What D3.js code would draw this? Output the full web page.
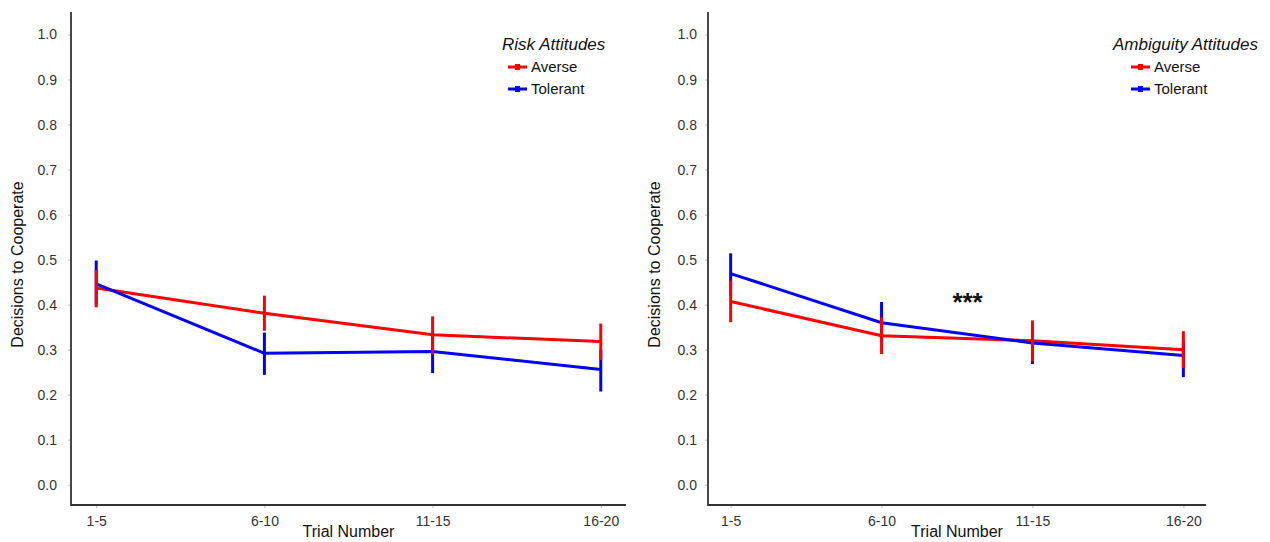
<!DOCTYPE html>
<html>
<head>
<meta charset="utf-8">
<script src="https://cdn.jsdelivr.net/npm/d3@7"></script>
<style>
  body { margin: 0; background: #fff; }
  svg { font-family: "Liberation Sans", Arial, Helvetica, sans-serif; }
  .axes text { fill: #333; font-size: 14px; }
  .axes .tick line { stroke: #bbb; }
  .axes .domain { display: none; }
  .axis_label { font-size: 16px; fill: #111; }
  .legend_title { font-size: 17px; font-style: italic; fill: #111; }
  .legend_label { font-size: 15px; fill: #111; }
</style>
</head>
<body>
<div id="vis"></div>
<script>
// data
var trials = ["1-5", "6-10", "11-15", "16-20"];
var groups = ["Averse", "Tolerant"];
var y_ticks = [0, 0.1, 0.2, 0.3, 0.4, 0.5, 0.6, 0.7, 0.8, 0.9, 1.0];

// risk attitudes (left panel): mean, lower, upper
var risk_averse_mean  = [0.437, 0.381, 0.333, 0.318];
var risk_averse_low   = [0.394, 0.342, 0.289, 0.277];
var risk_averse_high  = [0.477, 0.420, 0.374, 0.358];
var risk_tolerant_mean = [0.446, 0.292, 0.296, 0.256];
var risk_tolerant_low  = [0.400, 0.244, 0.248, 0.207];
var risk_tolerant_high = [0.498, 0.338, 0.340, 0.300];

// ambiguity attitudes (right panel)
var amb_averse_mean  = [0.407, 0.331, 0.320, 0.300];
var amb_averse_low   = [0.361, 0.290, 0.274, 0.259];
var amb_averse_high  = [0.454, 0.372, 0.365, 0.341];
var amb_tolerant_mean = [0.469, 0.360, 0.315, 0.287];
var amb_tolerant_low  = [0.420, 0.320, 0.268, 0.239];
var amb_tolerant_high = [0.514, 0.406, 0.350, 0.320];

var colors = {"Averse": "#ff0000", "Tolerant": "#0000ff"};

function make_series(mean, low, high){
    var out = [];
    for (var i in trials){
        out.push({trial: trials[i], mean: mean[i], low: low[i], high: high[i]});
    }
    return out;
}

var panels = [
    {
        title: "Risk Attitudes",
        x0: 71, x1: 626, label_pad: 11,
        legend_x: 508, title_x: 502,
        series: {
            "Averse": make_series(risk_averse_mean, risk_averse_low, risk_averse_high),
            "Tolerant": make_series(risk_tolerant_mean, risk_tolerant_low, risk_tolerant_high)
        },
        stars: null
    },
    {
        title: "Ambiguity Attitudes",
        x0: 708, x1: 1206, label_pad: 8,
        legend_x: 1131, title_x: 1113,
        series: {
            "Averse": make_series(amb_averse_mean, amb_averse_low, amb_averse_high),
            "Tolerant": make_series(amb_tolerant_mean, amb_tolerant_low, amb_tolerant_high)
        },
        stars: {after: "6-10", frac: 0.57, y: 0.414, text: "***"}
    }
];

var width = 1270;
var height = 542;
var y_top = 12;
var y_bottom = 505;

var svg = d3.select("#vis")
    .append("svg")
    .attr("width", width)
    .attr("height", height);

var yScale = d3.scaleLinear()
    .domain([-0.045, 1.05])
    .range([y_bottom, y_top]);

panels.forEach(function(p){
    var xScale = d3.scalePoint()
        .domain(trials)
        .range([p.x0, p.x1])
        .padding(0.15);

    // axes
    var yAxis = d3.axisLeft(yScale)
        .tickValues(y_ticks)
        .tickFormat(d3.format(".1f"))
        .tickSize(3)
        .tickPadding(p.label_pad);
    svg.append("g")
        .attr("class", "axes")
        .attr("transform", "translate(" + p.x0 + ",0)")
        .call(yAxis);

    var xAxis = d3.axisBottom(xScale)
        .tickSize(3)
        .tickPadding(8);
    svg.append("g")
        .attr("class", "axes")
        .attr("transform", "translate(0," + y_bottom + ")")
        .call(xAxis);

    // axis lines
    svg.append("path")
        .attr("d", "M" + p.x0 + "," + y_top + "V" + y_bottom + "H" + p.x1)
        .attr("fill", "none")
        .attr("stroke", "#333")
        .attr("stroke-width", 1.8);

    // axis titles
    svg.append("text")
        .attr("class", "axis_label")
        .attr("text-anchor", "middle")
        .attr("transform", "translate(" + (p.x0 - 48) + "," + ((y_top + y_bottom) / 2 + 6) + ") rotate(-90)")
        .text("Decisions to Cooperate");

    svg.append("text")
        .attr("class", "axis_label")
        .attr("text-anchor", "middle")
        .attr("x", (p.x0 + p.x1) / 2)
        .attr("y", 537)
        .text("Trial Number");

    // lines
    var line = d3.line()
        .x(function(d){ return xScale(d.trial); })
        .y(function(d){ return yScale(d.mean); });

    ["Averse", "Tolerant"].forEach(function(g){
        svg.append("path")
            .datum(p.series[g])
            .attr("d", line)
            .attr("fill", "none")
            .attr("stroke", colors[g])
            .attr("stroke-width", 3);
    });

    // error bars, averse on top
    ["Tolerant", "Averse"].forEach(function(g){
        svg.append("g")
            .selectAll("line")
            .data(p.series[g])
            .enter()
            .append("line")
            .attr("x1", function(d){ return xScale(d.trial); })
            .attr("x2", function(d){ return xScale(d.trial); })
            .attr("y1", function(d){ return yScale(d.low); })
            .attr("y2", function(d){ return yScale(d.high); })
            .attr("stroke", colors[g])
            .attr("stroke-width", 3);
    });

    // significance marker
    if (p.stars){
        var sx = xScale(p.stars.after) + xScale.step() * p.stars.frac;
        svg.append("text")
            .attr("x", sx)
            .attr("y", yScale(p.stars.y) + 13)
            .attr("text-anchor", "middle")
            .attr("font-size", "26px")
            .attr("font-weight", "bold")
            .attr("fill", "#111")
            .text(p.stars.text);
    }

    // legend
    svg.append("text")
        .attr("class", "legend_title")
        .attr("x", p.title_x)
        .attr("y", 50)
        .text(p.title);

    var leg = svg.append("g")
        .selectAll("g")
        .data(groups)
        .enter()
        .append("g")
        .attr("transform", function(d, i){ return "translate(" + p.legend_x + "," + (67 + i * 22) + ")"; });

    leg.append("line")
        .attr("x1", 0)
        .attr("x2", 19)
        .attr("stroke", function(d){ return colors[d]; })
        .attr("stroke-width", 3);
    leg.append("rect")
        .attr("x", 7)
        .attr("y", -3)
        .attr("width", 5)
        .attr("height", 6)
        .attr("fill", function(d){ return colors[d]; });
    leg.append("text")
        .attr("class", "legend_label")
        .attr("x", 23)
        .attr("dy", "0.35em")
        .text(function(d){ return d; });
});
</script>
</body>
</html>
